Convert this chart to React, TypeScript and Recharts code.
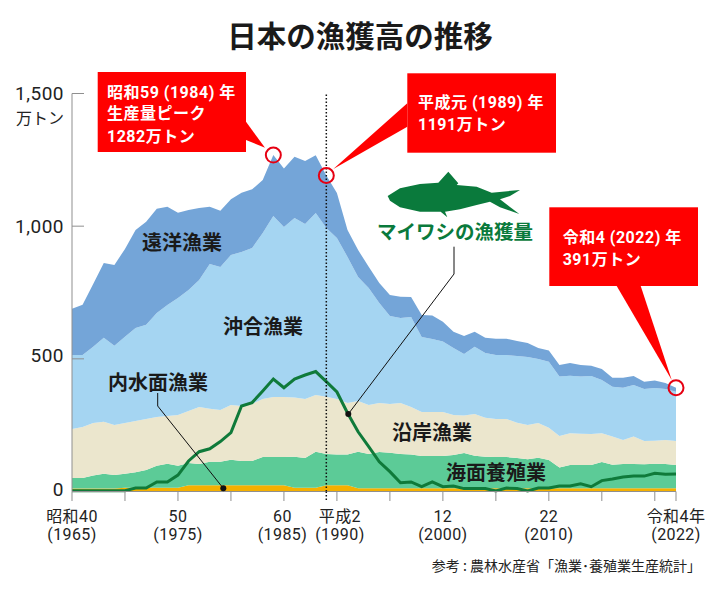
import React from "react";
import { ComposedChart, Area, Line, XAxis, YAxis, ReferenceLine, ReferenceDot } from "recharts";

const years = [1965,1966,1967,1968,1969,1970,1971,1972,1973,1974,1975,1976,1977,1978,1979,1980,1981,1982,1983,1984,1985,1986,1987,1988,1989,1990,1991,1992,1993,1994,1995,1996,1997,1998,1999,2000,2001,2002,2003,2004,2005,2006,2007,2008,2009,2010,2011,2012,2013,2014,2015,2016,2017,2018,2019,2020,2021,2022];
// Running totals, bottom band upward
const upToInland = [11,11,11,11,11,14,14,14,14,14,14,24,24,24,24,24,24,24,24,24,24,14,14,14,24,24,24,12,12,12,12,12,12,12,12,12,12,12,12,12,12,12,12,12,12,12,12,12,12,12,12,12,12,12,12,12,12,12];
const upToAquaculture = [51,51,60,67,62,67,73,81,97,105,97,107,104,112,112,120,115,115,130,130,130,131,126,150,141,139,139,150,141,149,146,141,139,134,134,134,138,145,135,131,130,130,126,122,127,119,90,100,100,100,111,101,104,104,103,105,104,100];
const upToCoastal = [236,243,258,263,251,258,266,273,281,285,288,303,318,312,307,326,322,330,349,356,356,354,349,364,357,349,334,341,326,334,330,334,318,300,300,300,288,286,292,278,273,273,259,251,258,240,209,220,218,217,220,207,194,207,190,191,194,190];
const upToOffshore = [514,514,546,579,549,583,616,628,673,703,729,759,797,857,846,891,903,918,974,1038,997,1031,1008,1050,993,955,884,808,767,710,661,654,658,582,575,565,541,518,546,522,514,514,511,507,499,489,433,436,433,435,420,395,391,401,386,390,386,376];
const totalCatch = [689,704,782,861,854,914,986,1017,1066,1073,1051,1061,1068,1073,1058,1101,1126,1139,1174,1268,1217,1262,1246,1267,1191,1125,986,910,847,786,741,734,733,665,663,640,602,586,602,579,576,576,567,560,541,531,477,484,477,474,462,429,429,435,414,418,409,391];
const sardine = [3,3,3,3,3,3,13,13,36,36,62,115,150,161,188,222,322,335,379,424,391,424,439,452,414,375,296,225,169,112,75,33,36,18,36,18,21,11,11,11,2,13,11,2,13,13,21,21,29,18,41,47,55,58,58,69,65,66];

const xTicks = [1965,1970,1975,1980,1985,1990,1995,2000,2005,2010,2015,2020,2022];
const xLabels: Record<number, [string, string]> = {
  1965: ["昭和40", "(1965)"],
  1975: ["50", "(1975)"],
  1985: ["60", "(1985)"],
  1990: ["平成2", "(1990)"],
  2000: ["12", "(2000)"],
  2010: ["22", "(2010)"],
  2022: ["令和4年", "(2022)"],
};
const yTicks = [0, 500, 1000, 1500];
const yTickLabels: Record<number, string> = { 0: "0", 500: "500", 1000: "1,000", 1500: "1,500" };

const table = years.map((year, i) => ({
  year,
  inland: upToInland[i],
  aquaculture: upToAquaculture[i] - upToInland[i],
  coastal: upToCoastal[i] - upToAquaculture[i],
  offshore: upToOffshore[i] - upToCoastal[i],
  distant: totalCatch[i] - upToOffshore[i],
  sardine: sardine[i],
}));

const FONT = "'Noto Sans CJK JP', sans-serif";
const NUM = "Roboto, 'Noto Sans CJK JP', sans-serif";

const XTick = (p: any) => {
  const year = p.payload.value;
  const l = xLabels[year];
  const nudge = year === 1990 ? 3 : year === 1985 ? -1.5 : 0;
  return (
    <g>
      <line x1={p.x} x2={p.x} y1={491.5} y2={501} stroke="#8f8f8f" strokeWidth={1} />
      {l && (
        <g fontFamily={NUM} fontSize={16} letterSpacing={0.4} fill="#222" textAnchor="middle">
          <text x={p.x + nudge} y={522}>{l[0]}</text>
          <text x={p.x + nudge} y={539.5}>{l[1]}</text>
        </g>
      )}
    </g>
  );
};

const YTick = (p: any) => {
  const v = p.payload.value;
  return (
    <g>
      {v > 0 && <line x1={72} x2={84} y1={p.y} y2={p.y} stroke="#8f8f8f" strokeWidth={1} />}
      <text x={64} y={v === 500 ? p.y + 3 : v === 0 ? p.y + 4 : p.y + 6.5} textAnchor="end" fontFamily={NUM} fontSize={19} letterSpacing={0.5} fill="#222">
        {yTickLabels[v]}
      </text>
    </g>
  );
};

const Callout = ({ box, pointer, lines, tx, ty }: any) => (
  <g>
    <polygon points={pointer} fill="#ff0000" />
    <rect x={box[0]} y={box[1]} width={box[2]} height={box[3]} fill="#ff0000" />
    <g fill="#fff" fontFamily={NUM} fontSize={16} letterSpacing={0.5} fontWeight={700}>
      {lines.map((t: string, i: number) => (
        <text key={i} x={tx} y={ty[i]} style={{ whiteSpace: "pre" }}>{t}</text>
      ))}
    </g>
  </g>
);

const Label = ({ x, y, children }: any) => (
  <text x={x} y={y} textAnchor="middle" fontFamily={FONT} fontSize={20} fontWeight={700} fill="#1a1a1a">
    {children}
  </text>
);

export default function App() {
  return (
    <div style={{ position: "absolute", left: 0, top: 0, width: 720, height: 595, background: "#fff" }}>
      <ComposedChart
        width={720}
        height={595}
        data={table}
        margin={{ top: 93.5, right: 44, bottom: 73.5, left: 0 }}
      >
        <XAxis
          dataKey="year"
          type="number"
          domain={[1965, 2022]}
          ticks={xTicks}
          interval={0}
          height={30}
          stroke="#8f8f8f"
          tickLine={false}
          tick={XTick}
        />
        <YAxis
          type="number"
          domain={[0, 1500]}
          ticks={yTicks}
          interval={0}
          width={72}
          stroke="#8f8f8f"
          tickLine={false}
          tick={YTick}
        />
        <Area dataKey="inland" stackId="a" type="linear" fill="#f5b000" fillOpacity={1} stroke="none" isAnimationActive={false} />
        <Area dataKey="aquaculture" stackId="a" type="linear" fill="#5ccb97" fillOpacity={1} stroke="none" isAnimationActive={false} />
        <Area dataKey="coastal" stackId="a" type="linear" fill="#ebe6cd" fillOpacity={1} stroke="none" isAnimationActive={false} />
        <Area dataKey="offshore" stackId="a" type="linear" fill="#a5d5f2" fillOpacity={1} stroke="none" isAnimationActive={false} />
        <Area dataKey="distant" stackId="a" type="linear" fill="#74a5d8" fillOpacity={1} stroke="none" isAnimationActive={false} />
        <Line dataKey="sardine" type="linear" stroke="#0f7a3a" strokeWidth={3} dot={false} isAnimationActive={false} />
        <ReferenceLine x={1989} stroke="#111" strokeWidth={1.5} strokeDasharray="1.5 2" />
        <ReferenceDot x={1984} y={1268} r={7.5} fill="none" stroke="#e60012" strokeWidth={2} />
        <ReferenceDot x={1989} y={1191} r={7.5} fill="none" stroke="#e60012" strokeWidth={2} />
        <ReferenceDot x={2022} y={391} r={7.5} fill="none" stroke="#e60012" strokeWidth={2} />
      </ComposedChart>

      <svg width={720} height={595} style={{ position: "absolute", left: 0, top: 0, pointerEvents: "none" }}>
        <text x={360} y={47} textAnchor="middle" fontFamily={FONT} fontSize={29.5} fontWeight={700} fill="#1a1a1a">
          日本の漁獲高の推移
        </text>
        <text x={64} y={124} textAnchor="end" fontFamily={FONT} fontSize={16} fill="#222">万トン</text>

        <Callout
          box={[97.7, 72, 148.3, 80]}
          pointer="246,121.7 246,140 265,147.7"
          lines={["昭和59 (1984) 年", "生産量ピーク", "1282万トン"]}
          tx={107}
          ty={[97.5, 119, 141.5]}
        />
        <Callout
          box={[407.3, 73.3, 148.7, 79.4]}
          pointer="407.3,103.3 407.3,126.7 333.3,169"
          lines={["平成元 (1989) 年", "1191万トン"]}
          tx={418}
          ty={[107.5, 129.5]}
        />
        <Callout
          box={[549.3, 207.3, 148.7, 78.7]}
          pointer="616.7,286 640.7,286 671.7,380"
          lines={["令和4 (2022) 年", "391万トン"]}
          tx={562.7}
          ty={[243, 264.5]}
        />

        <g transform="translate(320,70) scale(0.3333)">
          <path
            d="M203 378 L240 355 L300 342 L355 338 L385 305 L415 340 L410 345 L470 350 L515 368 L600 360 L570 378 L540 388 L598 432 L540 412 L510 395 L470 405 L420 418 L375 425 L382 442 L362 425 L300 425 L240 412 L210 392 Z"
            fill="#0a7a3c"
          />
        </g>
        <text x={455} y={239} textAnchor="middle" fontFamily={FONT} fontSize={19.5} fontWeight={700} fill="#0a7a3c">
          マイワシの漁獲量
        </text>

        <Label x={182} y={250}>遠洋漁業</Label>
        <Label x={263} y={334}>沖合漁業</Label>
        <Label x={158} y={390}>内水面漁業</Label>
        <Label x={432} y={440}>沿岸漁業</Label>
        <Label x={496} y={480}>海面養殖業</Label>

        <polyline points="157.7,393 157.7,406 223.3,488.3" fill="none" stroke="#111" strokeWidth={1} />
        <circle cx={223.3} cy={488.3} r={3} fill="#111" />
        <polyline points="454,246.7 454,274 348.3,414" fill="none" stroke="#111" strokeWidth={1} />
        <circle cx={348.3} cy={414} r={3} fill="#111" />
        <line x1={326.3} x2={326.3} y1={491.5} y2={500} stroke="#111" strokeWidth={1.5} strokeDasharray="1.5 2" />

        <text x={701} y={571} textAnchor="end" fontFamily={FONT} fontSize={14} fill="#222">
          参考 : 農林水産省「漁業･養殖業生産統計」
        </text>
      </svg>
    </div>
  );
}
